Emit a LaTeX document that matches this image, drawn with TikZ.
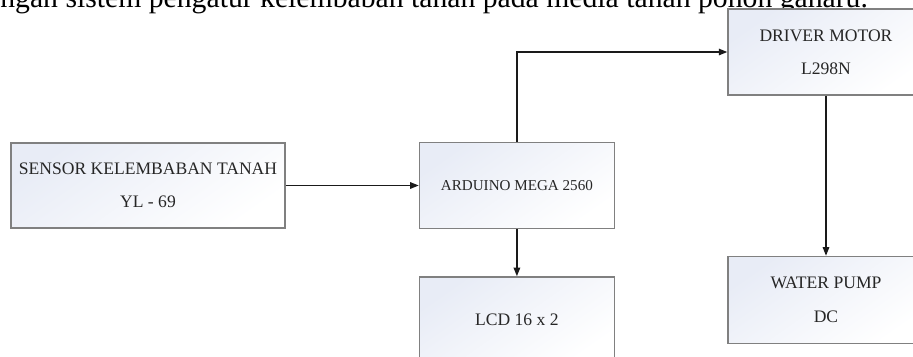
\documentclass[tikz,border=0pt]{standalone}
\usepackage{fontspec}
\setmainfont{Liberation Serif}
\usetikzlibrary{arrows.meta,positioning}
\definecolor{boxedge}{HTML}{808080}
\definecolor{boxtint}{HTML}{E8ECF6}
\definecolor{wireblack}{HTML}{1A1A1A}
\tikzset{blokbox/.style={draw=boxedge, line width=0.8pt, inner sep=0pt,
  align=center, top color=boxtint, bottom color=white, shading angle=35,
  text=black!85, font=\fontsize{10}{19}\selectfont},
  blokarrow/.style={-{Triangle[length=1.7mm, width=1.3mm]}, line width=0.75pt, wireblack},
  blok/.style={node distance=1cm}}

\begin{document}
\begin{tikzpicture}[blok]
    \useasboundingbox (0,0) rectangle (18.26,-7.12);
    % cut-off line of running text above the diagram
    \node[anchor=base west, inner sep=0pt, font=\fontsize{16.9}{20}\selectfont] (teks) at (0,-0.14) {ngan sistem pengatur kelembaban tanah pada media tanah pohon gaharu.};
    \node[blokbox, minimum width=5.48cm, minimum height=1.7cm] (sensor) at (2.96,-3.71) {SENSOR KELEMBABAN TANAH\\YL - 69};
    \node[blokbox, right=2.66cm of sensor, minimum width=3.9cm, minimum height=1.72cm, font=\fontsize{8.6}{19}\selectfont] (arduino) {ARDUINO MEGA 2560};
    \node[blokbox, below=0.94cm of arduino, minimum width=3.9cm, minimum height=1.72cm] (lcd) {LCD 16 x 2};
    \node[blokbox, minimum width=3.92cm, minimum height=1.72cm] (driver) at (16.52,-1.04) {DRIVER MOTOR\\L298N};
    \node[blokbox, below=3.2cm of driver, minimum width=3.92cm, minimum height=1.74cm] (pompa) {WATER PUMP\\DC};
    \draw[blokarrow] (sensor) -- (arduino);
    \draw[blokarrow] (arduino.north) |- (driver.west);
    \draw[blokarrow] (arduino) -- (lcd);
    \draw[blokarrow] (driver) -- (pompa);
  \end{tikzpicture}
\end{document}
